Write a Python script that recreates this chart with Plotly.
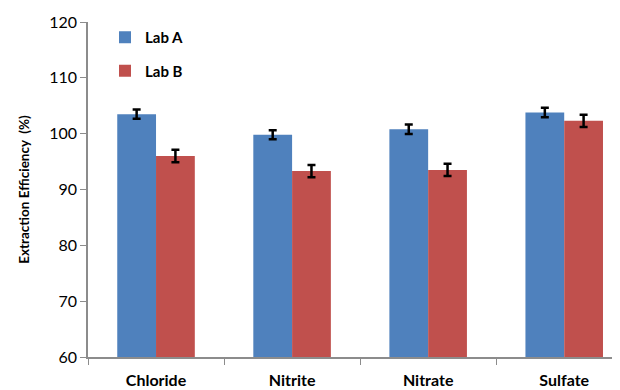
import plotly.graph_objects as go

categories = ["Chloride", "Nitrite", "Nitrate", "Sulfate"]
lab_a = [103.5, 99.8, 100.8, 103.8]
lab_a_err = [0.85, 0.8, 0.85, 0.85]
lab_b = [96.0, 93.3, 93.5, 102.3]
lab_b_err = [1.1, 1.1, 1.1, 1.1]
y_ticks = [60, 70, 80, 90, 100, 110, 120]

font_fam = "Lato, 'Open Sans', sans-serif"

fig = go.Figure()
fig.add_trace(go.Bar(
    name="Lab A", x=categories, y=lab_a, legendgroup="a",
    marker=dict(color="#4F81BD", line=dict(width=0)),
    error_y=dict(type="data", array=lab_a_err, color="black", thickness=2.5, width=4),
))
fig.add_trace(go.Bar(
    name="Lab B", x=categories, y=lab_b, legendgroup="b",
    marker=dict(color="#C0504D", line=dict(width=0)),
    error_y=dict(type="data", array=lab_b_err, color="black", thickness=2.5, width=4),
))

fig.update_layout(
    width=612, height=382,
    margin=dict(l=80, r=0, t=14, b=33, autoexpand=False),
    paper_bgcolor="white", plot_bgcolor="white",
    barmode="group", bargap=0.43, bargroupgap=0,
    font=dict(family=font_fam, color="black", size=16),
    legend=dict(x=0.032, y=1.003, xanchor="left", yanchor="top",
                font=dict(size=15, family=font_fam, weight="bold"),
                tracegroupgap=11, itemwidth=30, bgcolor="rgba(0,0,0,0)"),
    yaxis=dict(range=[60, 120], tickvals=y_ticks, showgrid=False,
               showline=True, linecolor="#8c8c8c", linewidth=1.5,
               ticks="outside", ticklen=6, tickcolor="#8c8c8c",
               tickfont=dict(size=16),
               title=dict(text="Extraction Efficiency  (%)", standoff=16,
                          font=dict(size=13.5, weight="bold"))),
    xaxis=dict(range=[-0.5, 3.41], showgrid=False,
               showline=True, linecolor="#8c8c8c", linewidth=1.5,
               ticks="outside", ticklen=6, tickcolor="#8c8c8c",
               tickson="boundaries", ticklabelstandoff=8,
               tickfont=dict(size=16, weight="bold")),
)

fig.write_html("out.html")
